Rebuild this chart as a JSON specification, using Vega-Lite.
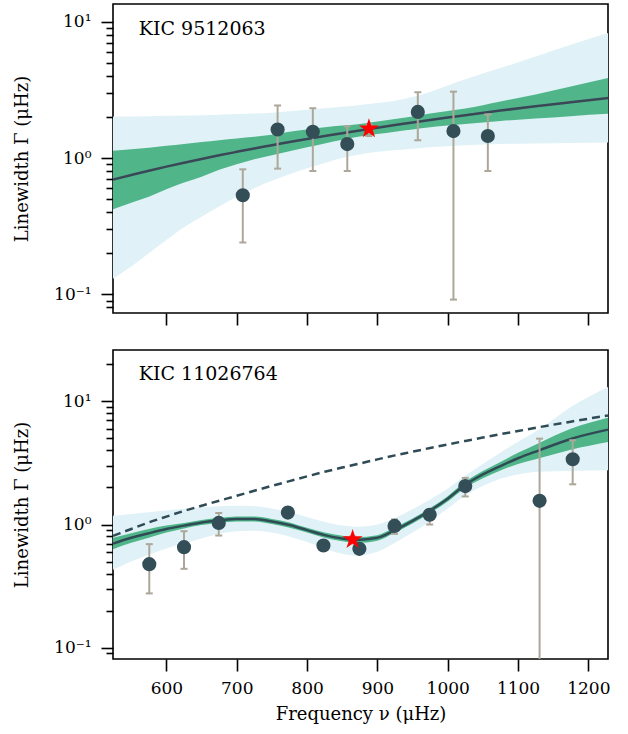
{
  "$schema": "https://vega.github.io/schema/vega-lite/v6.json",
  "padding": {"left": 12, "top": 3, "right": 5, "bottom": 5},
  "spacing": 22,
  "vconcat": [
    {
      "width": 495,
      "height": 309,
      "resolve": {"axis": {"y": "independent"}},
      "data": {"values": [
        {"kind": "c", "nu": 524, "fit": 0.694, "glo": 0.42, "ghi": 1.13, "blo": 0.13, "bhi": 2.02},
        {"kind": "c", "nu": 550, "fit": 0.75, "glo": 0.47, "ghi": 1.16, "blo": 0.16, "bhi": 2.02},
        {"kind": "c", "nu": 575, "fit": 0.807, "glo": 0.52, "ghi": 1.19, "blo": 0.2, "bhi": 2.03},
        {"kind": "c", "nu": 600, "fit": 0.865, "glo": 0.59, "ghi": 1.23, "blo": 0.25, "bhi": 2.04},
        {"kind": "c", "nu": 625, "fit": 0.924, "glo": 0.66, "ghi": 1.27, "blo": 0.31, "bhi": 2.05},
        {"kind": "c", "nu": 650, "fit": 0.985, "glo": 0.73, "ghi": 1.31, "blo": 0.37, "bhi": 2.06},
        {"kind": "c", "nu": 675, "fit": 1.047, "glo": 0.82, "ghi": 1.35, "blo": 0.44, "bhi": 2.08},
        {"kind": "c", "nu": 700, "fit": 1.11, "glo": 0.9, "ghi": 1.39, "blo": 0.52, "bhi": 2.1},
        {"kind": "c", "nu": 725, "fit": 1.176, "glo": 0.98, "ghi": 1.43, "blo": 0.6, "bhi": 2.12},
        {"kind": "c", "nu": 750, "fit": 1.24, "glo": 1.05, "ghi": 1.48, "blo": 0.68, "bhi": 2.15},
        {"kind": "c", "nu": 775, "fit": 1.31, "glo": 1.12, "ghi": 1.56, "blo": 0.76, "bhi": 2.2},
        {"kind": "c", "nu": 800, "fit": 1.38, "glo": 1.2, "ghi": 1.62, "blo": 0.84, "bhi": 2.26},
        {"kind": "c", "nu": 825, "fit": 1.45, "glo": 1.28, "ghi": 1.68, "blo": 0.92, "bhi": 2.32},
        {"kind": "c", "nu": 850, "fit": 1.52, "glo": 1.36, "ghi": 1.73, "blo": 1.0, "bhi": 2.38},
        {"kind": "c", "nu": 875, "fit": 1.595, "glo": 1.44, "ghi": 1.78, "blo": 1.06, "bhi": 2.45},
        {"kind": "c", "nu": 900, "fit": 1.67, "glo": 1.5, "ghi": 1.85, "blo": 1.11, "bhi": 2.53},
        {"kind": "c", "nu": 925, "fit": 1.745, "glo": 1.56, "ghi": 1.93, "blo": 1.14, "bhi": 2.63},
        {"kind": "c", "nu": 950, "fit": 1.82, "glo": 1.62, "ghi": 2.02, "blo": 1.17, "bhi": 2.8},
        {"kind": "c", "nu": 975, "fit": 1.9, "glo": 1.68, "ghi": 2.12, "blo": 1.2, "bhi": 3.05},
        {"kind": "c", "nu": 1000, "fit": 1.98, "glo": 1.73, "ghi": 2.21, "blo": 1.22, "bhi": 3.4},
        {"kind": "c", "nu": 1025, "fit": 2.06, "glo": 1.78, "ghi": 2.31, "blo": 1.24, "bhi": 3.78},
        {"kind": "c", "nu": 1075, "fit": 2.23, "glo": 1.87, "ghi": 2.6, "blo": 1.27, "bhi": 4.57},
        {"kind": "c", "nu": 1125, "fit": 2.4, "glo": 1.95, "ghi": 2.93, "blo": 1.28, "bhi": 5.56},
        {"kind": "c", "nu": 1175, "fit": 2.57, "glo": 2.03, "ghi": 3.35, "blo": 1.29, "bhi": 6.78},
        {"kind": "c", "nu": 1228, "fit": 2.76, "glo": 2.11, "ghi": 3.86, "blo": 1.3, "bhi": 8.26},
        {"kind": "dot", "nu": 708.6, "g": 0.533, "lo": 0.24, "hi": 0.826},
        {"kind": "dot", "nu": 758.1, "g": 1.62, "lo": 0.836, "hi": 2.43},
        {"kind": "dot", "nu": 808.2, "g": 1.56, "lo": 0.803, "hi": 2.32},
        {"kind": "dot", "nu": 857.2, "g": 1.266, "lo": 0.803, "hi": 1.71},
        {"kind": "star", "nu": 888, "g": 1.64, "lo": 1.45, "hi": 1.76},
        {"kind": "dot", "nu": 957.5, "g": 2.18, "lo": 1.35, "hi": 3.04},
        {"kind": "dot", "nu": 1008.2, "g": 1.576, "lo": 0.0914, "hi": 3.07},
        {"kind": "dot", "nu": 1057.1, "g": 1.45, "lo": 0.803, "hi": 2.09}
      ]},
      "encoding": {
        "x": {"field": "nu", "type": "quantitative", "scale": {"domain": [524, 1228], "nice": false, "zero": false},
              "axis": {"values": [600, 700, 800, 900, 1000, 1100, 1200], "labels": false, "title": null}}
      },
      "layer": [
        {
          "transform": [{"filter": "datum.kind == 'c'"}],
          "mark": {"type": "area", "color": "#e0f2f7", "interpolate": "monotone", "opacity": 1},
          "encoding": {
            "y": {"field": "blo", "type": "quantitative",
                  "scale": {"type": "log", "domain": [0.0729, 13.5], "nice": false},
                  "axis": {"orient": "left", "title": "Linewidth Γ (μHz)", "values": [0.1, 1, 10], "tickSize": 12,
                           "labelExpr": "datum.value==10?'10¹':datum.value==1?'10⁰':'10⁻¹'"}},
            "y2": {"field": "bhi"}
          }
        },
        {
          "transform": [{"filter": "datum.kind == 'c'"}],
          "mark": {"type": "area", "color": "#50b68a", "interpolate": "monotone", "opacity": 1},
          "encoding": {"y": {"field": "glo", "type": "quantitative",
                             "axis": {"orient": "left", "title": null, "labels": false, "tickSize": 7,
                                      "values": [0.08, 0.09, 0.2, 0.3, 0.4, 0.5, 0.6, 0.7, 0.8, 0.9, 2, 3, 4, 5, 6, 7, 8, 9]}},
                       "y2": {"field": "ghi"}}
        },
        {
          "transform": [{"filter": "datum.kind == 'c'"}],
          "mark": {"type": "line", "color": "#3a4757", "strokeWidth": 2.5, "interpolate": "monotone"},
          "encoding": {"y": {"field": "fit", "type": "quantitative", "axis": null}}
        },
        {
          "transform": [{"filter": "datum.kind != 'c'"}],
          "mark": {"type": "rule", "color": "#aca799", "strokeWidth": 2, "clip": true},
          "encoding": {"y": {"field": "lo", "type": "quantitative", "axis": null}, "y2": {"field": "hi"}}
        },
        {
          "transform": [{"filter": "datum.kind != 'c'"}],
          "mark": {"type": "tick", "color": "#aca799", "orient": "horizontal", "size": 7, "thickness": 2, "opacity": 1},
          "encoding": {"y": {"field": "lo", "type": "quantitative", "axis": null}}
        },
        {
          "transform": [{"filter": "datum.kind != 'c'"}],
          "mark": {"type": "tick", "color": "#aca799", "orient": "horizontal", "size": 7, "thickness": 2, "opacity": 1},
          "encoding": {"y": {"field": "hi", "type": "quantitative", "axis": null}}
        },
        {
          "transform": [{"filter": "datum.kind == 'dot'"}],
          "mark": {"type": "circle", "color": "#344e58", "size": 200, "opacity": 1},
          "encoding": {"y": {"field": "g", "type": "quantitative", "axis": null}}
        },
        {
          "transform": [{"filter": "datum.kind == 'star'"}],
          "mark": {"type": "point", "shape": "M0,-1L0.225,-0.309L0.951,-0.309L0.363,0.118L0.588,0.809L0,0.382L-0.588,0.809L-0.363,0.118L-0.951,-0.309L-0.225,-0.309Z",
                   "filled": true, "color": "#ff0000", "size": 440, "opacity": 1},
          "encoding": {"y": {"field": "g", "type": "quantitative", "axis": null}}
        },
        {
          "data": {"values": [{"nu": 560.7, "g": 8.84, "t": "KIC 9512063"}]},
          "mark": {"type": "text", "align": "left", "baseline": "middle", "fontSize": 19, "font": "DejaVu Serif", "color": "black"},
          "encoding": {"y": {"field": "g", "type": "quantitative", "axis": null}, "text": {"field": "t"}}
        }
      ]
    },
    {
      "width": 495,
      "height": 309,
      "resolve": {"axis": {"y": "independent"}},
      "data": {"values": [
        {"kind": "c", "nu": 524, "fit": 0.7, "glo": 0.63, "ghi": 0.78, "blo": 0.43, "bhi": 1.18, "dash": 0.81},
        {"kind": "c", "nu": 550, "fit": 0.78, "glo": 0.71, "ghi": 0.85, "blo": 0.5, "bhi": 1.22, "dash": 0.92},
        {"kind": "c", "nu": 575, "fit": 0.85, "glo": 0.78, "ghi": 0.92, "blo": 0.57, "bhi": 1.26, "dash": 1.04},
        {"kind": "c", "nu": 600, "fit": 0.92, "glo": 0.86, "ghi": 0.98, "blo": 0.64, "bhi": 1.3, "dash": 1.16},
        {"kind": "c", "nu": 625, "fit": 0.98, "glo": 0.93, "ghi": 1.03, "blo": 0.7, "bhi": 1.34, "dash": 1.29},
        {"kind": "c", "nu": 650, "fit": 1.04, "glo": 0.99, "ghi": 1.09, "blo": 0.77, "bhi": 1.38, "dash": 1.42},
        {"kind": "c", "nu": 675, "fit": 1.08, "glo": 1.03, "ghi": 1.13, "blo": 0.84, "bhi": 1.41, "dash": 1.56},
        {"kind": "c", "nu": 700, "fit": 1.11, "glo": 1.06, "ghi": 1.16, "blo": 0.88, "bhi": 1.42, "dash": 1.71},
        {"kind": "c", "nu": 725, "fit": 1.11, "glo": 1.06, "ghi": 1.16, "blo": 0.89, "bhi": 1.41, "dash": 1.88},
        {"kind": "c", "nu": 750, "fit": 1.06, "glo": 1.01, "ghi": 1.11, "blo": 0.86, "bhi": 1.35, "dash": 2.06},
        {"kind": "c", "nu": 775, "fit": 0.99, "glo": 0.94, "ghi": 1.04, "blo": 0.8, "bhi": 1.26, "dash": 2.25},
        {"kind": "c", "nu": 800, "fit": 0.9, "glo": 0.86, "ghi": 0.94, "blo": 0.72, "bhi": 1.15, "dash": 2.46},
        {"kind": "c", "nu": 825, "fit": 0.82, "glo": 0.78, "ghi": 0.86, "blo": 0.64, "bhi": 1.05, "dash": 2.68},
        {"kind": "c", "nu": 850, "fit": 0.77, "glo": 0.73, "ghi": 0.81, "blo": 0.58, "bhi": 0.98, "dash": 2.9},
        {"kind": "c", "nu": 870, "fit": 0.75, "glo": 0.71, "ghi": 0.79, "blo": 0.56, "bhi": 0.96, "dash": 3.08},
        {"kind": "c", "nu": 900, "fit": 0.78, "glo": 0.74, "ghi": 0.82, "blo": 0.6, "bhi": 1.0, "dash": 3.38},
        {"kind": "c", "nu": 925, "fit": 0.9, "glo": 0.86, "ghi": 0.95, "blo": 0.71, "bhi": 1.13, "dash": 3.64},
        {"kind": "c", "nu": 950, "fit": 1.07, "glo": 1.02, "ghi": 1.12, "blo": 0.86, "bhi": 1.33, "dash": 3.9},
        {"kind": "c", "nu": 975, "fit": 1.3, "glo": 1.24, "ghi": 1.36, "blo": 1.06, "bhi": 1.6, "dash": 4.18},
        {"kind": "c", "nu": 1000, "fit": 1.62, "glo": 1.54, "ghi": 1.7, "blo": 1.35, "bhi": 1.95, "dash": 4.47},
        {"kind": "c", "nu": 1025, "fit": 2.1, "glo": 1.98, "ghi": 2.22, "blo": 1.72, "bhi": 2.5, "dash": 4.77},
        {"kind": "c", "nu": 1050, "fit": 2.55, "glo": 2.38, "ghi": 2.72, "blo": 2.05, "bhi": 3.1, "dash": 5.08},
        {"kind": "c", "nu": 1075, "fit": 2.98, "glo": 2.75, "ghi": 3.22, "blo": 2.35, "bhi": 3.85, "dash": 5.41},
        {"kind": "c", "nu": 1100, "fit": 3.45, "glo": 3.1, "ghi": 3.82, "blo": 2.55, "bhi": 4.7, "dash": 5.74},
        {"kind": "c", "nu": 1130, "fit": 4.0, "glo": 3.45, "ghi": 4.6, "blo": 2.68, "bhi": 5.9, "dash": 6.17},
        {"kind": "c", "nu": 1175, "fit": 4.95, "glo": 4.05, "ghi": 6.0, "blo": 2.72, "bhi": 9.0, "dash": 6.84},
        {"kind": "c", "nu": 1228, "fit": 5.89, "glo": 4.68, "ghi": 7.37, "blo": 2.76, "bhi": 13.1, "dash": 7.68},
        {"kind": "dot", "nu": 575.6, "g": 0.477, "lo": 0.276, "hi": 0.693},
        {"kind": "dot", "nu": 625, "g": 0.655, "lo": 0.437, "hi": 0.883},
        {"kind": "dot", "nu": 674.4, "g": 1.03, "lo": 0.814, "hi": 1.24},
        {"kind": "dot", "nu": 772.7, "g": 1.25, "lo": 1.15, "hi": 1.35},
        {"kind": "dot", "nu": 823.3, "g": 0.676, "lo": 0.62, "hi": 0.73},
        {"kind": "star", "nu": 864.8, "g": 0.756, "lo": 0.7, "hi": 0.8},
        {"kind": "dot", "nu": 874.4, "g": 0.635, "lo": 0.58, "hi": 0.69},
        {"kind": "dot", "nu": 924.4, "g": 0.975, "lo": 0.84, "hi": 1.1},
        {"kind": "dot", "nu": 974.4, "g": 1.2, "lo": 1.0, "hi": 1.32},
        {"kind": "dot", "nu": 1025, "g": 2.05, "lo": 1.69, "hi": 2.39},
        {"kind": "dot", "nu": 1130.7, "g": 1.556, "lo": 0.03, "hi": 4.98},
        {"kind": "dot", "nu": 1177.8, "g": 3.39, "lo": 2.12, "hi": 4.83}
      ]},
      "encoding": {
        "x": {"field": "nu", "type": "quantitative", "scale": {"domain": [524, 1228], "nice": false, "zero": false},
              "axis": {"values": [600, 700, 800, 900, 1000, 1100, 1200], "format": "d", "title": "Frequency ν (μHz)", "labelPadding": 9, "titlePadding": 9}}
      },
      "layer": [
        {
          "transform": [{"filter": "datum.kind == 'c'"}],
          "mark": {"type": "area", "color": "#e0f2f7", "interpolate": "monotone", "opacity": 1},
          "encoding": {
            "y": {"field": "blo", "type": "quantitative",
                  "scale": {"type": "log", "domain": [0.081, 26.1], "nice": false},
                  "axis": {"orient": "left", "title": "Linewidth Γ (μHz)", "values": [0.1, 1, 10], "tickSize": 12,
                           "labelExpr": "datum.value==10?'10¹':datum.value==1?'10⁰':'10⁻¹'"}},
            "y2": {"field": "bhi"}
          }
        },
        {
          "transform": [{"filter": "datum.kind == 'c'"}],
          "mark": {"type": "area", "color": "#50b68a", "interpolate": "monotone", "opacity": 1},
          "encoding": {"y": {"field": "glo", "type": "quantitative",
                             "axis": {"orient": "left", "title": null, "labels": false, "tickSize": 7,
                                      "values": [0.09, 0.2, 0.3, 0.4, 0.5, 0.6, 0.7, 0.8, 0.9, 2, 3, 4, 5, 6, 7, 8, 9, 20]}},
                       "y2": {"field": "ghi"}}
        },
        {
          "transform": [{"filter": "datum.kind == 'c'"}],
          "mark": {"type": "line", "color": "#2f4b55", "strokeWidth": 2.5, "strokeDash": [8, 5], "interpolate": "monotone"},
          "encoding": {"y": {"field": "dash", "type": "quantitative", "axis": null}}
        },
        {
          "transform": [{"filter": "datum.kind == 'c'"}],
          "mark": {"type": "line", "color": "#2f4b55", "strokeWidth": 2.5, "interpolate": "monotone"},
          "encoding": {"y": {"field": "fit", "type": "quantitative", "axis": null}}
        },
        {
          "transform": [{"filter": "datum.kind != 'c'"}],
          "mark": {"type": "rule", "color": "#aca799", "strokeWidth": 2, "clip": true},
          "encoding": {"y": {"field": "lo", "type": "quantitative", "axis": null}, "y2": {"field": "hi"}}
        },
        {
          "transform": [{"filter": "datum.kind != 'c'"}],
          "mark": {"type": "tick", "color": "#aca799", "orient": "horizontal", "size": 7, "thickness": 2, "opacity": 1, "clip": true},
          "encoding": {"y": {"field": "lo", "type": "quantitative", "axis": null}}
        },
        {
          "transform": [{"filter": "datum.kind != 'c'"}],
          "mark": {"type": "tick", "color": "#aca799", "orient": "horizontal", "size": 7, "thickness": 2, "opacity": 1},
          "encoding": {"y": {"field": "hi", "type": "quantitative", "axis": null}}
        },
        {
          "transform": [{"filter": "datum.kind == 'dot'"}],
          "mark": {"type": "circle", "color": "#344e58", "size": 200, "opacity": 1},
          "encoding": {"y": {"field": "g", "type": "quantitative", "axis": null}}
        },
        {
          "transform": [{"filter": "datum.kind == 'star'"}],
          "mark": {"type": "point", "shape": "M0,-1L0.225,-0.309L0.951,-0.309L0.363,0.118L0.588,0.809L0,0.382L-0.588,0.809L-0.363,0.118L-0.951,-0.309L-0.225,-0.309Z",
                   "filled": true, "color": "#ff0000", "size": 440, "opacity": 1},
          "encoding": {"y": {"field": "g", "type": "quantitative", "axis": null}}
        },
        {
          "data": {"values": [{"nu": 560.7, "g": 16.6, "t": "KIC 11026764"}]},
          "mark": {"type": "text", "align": "left", "baseline": "middle", "fontSize": 19, "font": "DejaVu Serif", "color": "black"},
          "encoding": {"y": {"field": "g", "type": "quantitative", "axis": null}, "text": {"field": "t"}}
        }
      ]
    }
  ],
  "config": {
    "view": {"stroke": "black", "strokeWidth": 1.6},
    "axis": {
      "domain": false, "grid": false,
      "tickColor": "black", "tickWidth": 1.6, "tickSize": 12,
      "labelFont": "DejaVu Serif", "labelFontSize": 17, "labelColor": "black", "labelPadding": 10,
      "titleFont": "DejaVu Serif", "titleFontSize": 18, "titleFontWeight": "normal", "titleColor": "black", "titlePadding": 22
    }
  }
}
